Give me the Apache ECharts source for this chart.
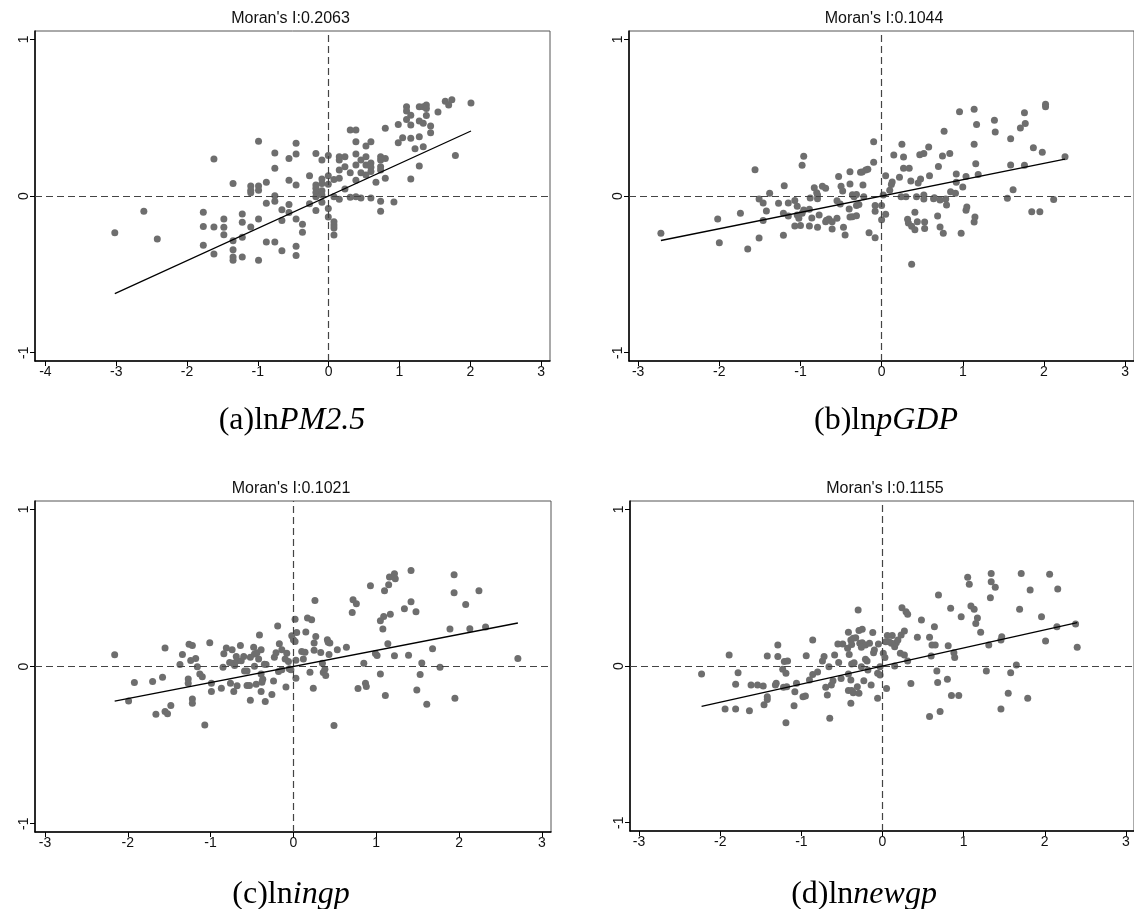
<!DOCTYPE html>
<html>
<head>
<meta charset="utf-8">
<script src="https://cdn.jsdelivr.net/npm/echarts@6/dist/echarts.min.js"></script>
<style>
html, body { margin: 0; padding: 0; background: #fff; }
#chart { width: 1134px; height: 909px; }
</style>
</head>
<body>
<div id="chart"></div>
<script>
// Moran's I per panel (slope of the fitted line)
const moransI = [0.2063, 0.1044, 0.1021, 0.1155];
const capPrefix = ['(a)ln', '(b)ln', '(c)ln', '(d)ln'];
const capVar = ['PM2.5', 'pGDP', 'ingp', 'newgp'];
const xTicksA = [-4, -3, -2, -1, 0, 1, 2, 3];
const xTicks = [-3, -2, -1, 0, 1, 2, 3];
const yTicks = [-1, 0, 1];

// [z, Wz] points
const pm25 = [
  [-3.02,-0.234],[-2.61,-0.098],[-2.42,-0.274],[-1.62,0.236],[-1.77,-0.104],[-1.77,-0.194],[-1.62,-0.198],
  [-1.77,-0.315],[-1.62,-0.37],[-1.48,-0.147],[-1.48,-0.2],[-1.48,-0.247],[-1.35,0.079],[-1.35,-0.285],
  [-1.35,-0.343],[-1.35,-0.39],[-1.35,-0.41],[-1.22,-0.115],[-1.22,-0.168],[-1.22,-0.264],[-1.22,-0.39],
  [-1.10,-0.198],[-1.10,0.064],[-1.10,0.036],[-1.10,0.02],[-0.99,0.064],[-0.99,0.036],[-0.99,-0.147],
  [-0.99,-0.41],[-0.99,0.349],[-0.88,0.087],[-0.88,-0.047],[-0.88,-0.294],[-0.76,0.274],[-0.76,0.177],
  [-0.76,0.002],[-0.76,-0.034],[-0.76,-0.294],[-0.66,-0.087],[-0.66,-0.157],[-0.66,-0.35],[-0.56,0.24],
  [-0.56,0.1],[-0.56,-0.055],[-0.56,-0.106],[-0.46,0.336],[-0.46,0.268],[-0.46,0.07],[-0.46,-0.147],
  [-0.46,-0.32],[-0.46,-0.38],[-0.37,-0.181],[-0.37,-0.232],[-0.27,0.13],[-0.27,-0.049],[-0.18,0.272],
  [-0.18,0.07],[-0.18,0.05],[-0.18,0.023],[-0.18,-0.004],[-0.18,-0.093],[-0.095,0.23],[-0.095,0.109],
  [-0.095,0.079],[-0.095,0.034],[-0.095,0.006],[-0.095,-0.04],[-0.005,0.258],[-0.005,0.13],[-0.005,0.075],
  [-0.005,-0.08],[-0.005,-0.134],[0.075,0.106],[0.075,-0.004],[0.075,-0.164],[0.075,-0.185],[0.075,-0.204],
  [0.075,-0.249],[0.15,0.25],[0.15,0.23],[0.15,0.166],[0.15,0.113],[0.15,-0.02],[0.23,0.25],[0.23,0.187],
  [0.23,0.045],[0.305,0.421],[0.305,0.149],[0.305,-0.008],[0.385,0.421],[0.385,0.347],[0.385,0.268],
  [0.385,0.198],[0.385,0.1],[0.385,-0.004],[0.456,0.23],[0.456,0.149],[0.456,-0.013],[0.527,0.319],
  [0.527,0.25],[0.527,0.198],[0.527,0.134],[0.597,0.347],[0.597,0.21],[0.597,0.183],[0.597,0.157],
  [0.597,-0.013],[0.668,0.087],[0.734,0.25],[0.734,0.23],[0.734,0.187],[0.734,0.166],[0.734,-0.034],
  [0.734,-0.098],[0.8,0.24],[0.8,0.432],[0.8,0.113],[0.922,-0.038],[0.983,0.457],[0.983,0.34],[1.045,0.372],
  [1.10,0.57],[1.10,0.542],[1.10,0.489],[1.16,0.515],[1.16,0.453],[1.16,0.368],[1.16,0.109],[1.22,0.302],
  [1.28,0.57],[1.28,0.479],[1.28,0.378],[1.28,0.191],[1.336,0.57],[1.336,0.464],[1.336,0.315],[1.38,0.58],
  [1.38,0.559],[1.38,0.513],[1.44,0.447],[1.44,0.404],[1.544,0.536],[1.647,0.604],[1.695,0.58],[1.74,0.615],
  [1.79,0.258],[2.01,0.593]
];
const pgdp = [
  [-2.72,-0.238],[-2.02,-0.147],[-2.0,-0.298],[-1.74,-0.11],[-1.65,-0.338],[-1.56,0.168],[-1.51,-0.019],
  [-1.51,-0.268],[-1.46,-0.044],[-1.46,-0.157],[-1.42,-0.095],[-1.38,0.017],[-1.27,-0.047],[-1.21,-0.11],
  [-1.20,0.066],[-1.21,-0.251],[-1.15,-0.044],[-1.15,-0.127],[-1.07,-0.028],[-1.07,-0.191],[-1.04,-0.066],
  [-1.04,-0.121],[-1.02,-0.142],[-1.0,-0.189],[-0.98,0.196],[-0.96,0.253],[-0.98,-0.11],[-0.96,-0.089],
  [-0.89,-0.191],[-0.89,-0.085],[-0.88,-0.013],[-0.86,-0.14],[-0.83,0.053],[-0.80,0.021],[-0.79,-0.017],
  [-0.79,0.006],[-0.79,-0.2],[-0.77,-0.121],[-0.73,0.062],[-0.69,0.049],[-0.69,-0.164],[-0.68,-0.155],
  [-0.65,-0.147],[-0.61,-0.164],[-0.61,-0.211],[-0.55,-0.142],[-0.55,-0.03],[-0.53,0.125],[-0.51,-0.051],
  [-0.50,0.062],[-0.48,0.032],[-0.47,-0.2],[-0.45,-0.249],[-0.39,0.077],[-0.39,0.155],[-0.40,-0.083],
  [-0.39,-0.134],[-0.36,0.008],[-0.36,-0.132],[-0.34,-0.004],[-0.31,0.01],[-0.31,-0.06],[-0.31,-0.126],
  [-0.28,-0.055],[-0.26,0.151],[-0.24,0.153],[-0.23,0.07],[-0.22,-0.004],[-0.195,0.166],[-0.17,0.17],
  [-0.155,-0.234],[-0.098,0.347],[-0.098,0.215],[-0.08,-0.06],[-0.08,-0.098],[-0.08,-0.266],[0.0,-0.06],
  [0.0,-0.151],[0.02,0.006],[0.05,0.13],[0.05,-0.117],[0.10,0.036],[0.12,0.074],[0.13,0.09],[0.15,0.262],
  [0.22,0.119],[0.24,-0.004],[0.25,0.33],[0.27,0.249],[0.27,0.177],[0.30,-0.004],[0.32,-0.149],[0.33,-0.172],
  [0.34,0.177],[0.36,0.096],[0.37,-0.193],[0.37,-0.436],[0.41,-0.104],[0.41,-0.215],[0.43,-0.004],
  [0.44,-0.164],[0.45,0.083],[0.47,0.264],[0.48,0.108],[0.52,0.272],[0.52,0.006],[0.52,-0.019],[0.53,-0.166],
  [0.53,-0.208],[0.58,0.313],[0.59,0.13],[0.64,-0.017],[0.65,-0.011],[0.70,0.189],[0.69,-0.127],[0.72,-0.026],
  [0.72,-0.198],[0.75,0.255],[0.76,-0.238],[0.77,0.413],[0.79,-0.019],[0.80,-0.057],[0.84,0.272],[0.85,0.027],
  [0.91,0.017],[0.92,0.14],[0.92,0.087],[0.96,0.538],[0.98,-0.238],[1.00,0.057],[1.04,0.125],[1.04,-0.091],
  [1.05,-0.07],[1.14,0.553],[1.14,0.33],[1.14,-0.166],[1.15,-0.134],[1.16,0.206],[1.17,0.457],[1.19,0.138],
  [1.39,0.483],[1.40,0.409],[1.55,-0.015],[1.59,0.198],[1.59,0.366],[1.62,0.04],[1.71,0.434],[1.76,0.532],
  [1.77,0.462],[1.76,0.196],[1.85,-0.1],[1.87,0.308],[1.95,-0.1],[1.98,0.279],[2.02,0.57],[2.02,0.585],
  [2.12,-0.023],[2.26,0.251]
];
const ingp = [
  [-2.158,0.074],[-1.99,-0.219],[-1.92,-0.102],[-1.70,-0.096],[-1.66,-0.304],[-1.58,-0.068],[-1.55,0.117],
  [-1.55,-0.287],[-1.52,-0.3],[-1.48,-0.248],[-1.37,0.013],[-1.34,0.076],[-1.27,-0.079],[-1.27,-0.106],
  [-1.26,0.142],[-1.22,0.134],[-1.24,0.038],[-1.22,-0.206],[-1.22,-0.234],[-1.18,0.051],[-1.16,-0.002],
  [-1.13,-0.047],[-1.10,-0.066],[-1.07,-0.372],[-1.01,0.151],[-0.99,-0.106],[-0.99,-0.159],[-0.87,-0.138],
  [-0.85,-0.004],[-0.84,0.081],[-0.81,0.117],[-0.76,-0.106],[-0.74,0.106],[-0.77,0.025],[-0.73,0.021],
  [-0.71,0.006],[-0.72,-0.159],[-0.69,0.064],[-0.68,0.036],[-0.68,-0.123],[-0.64,0.134],[-0.63,0.036],
  [-0.60,0.064],[-0.59,-0.028],[-0.56,-0.028],[-0.56,-0.121],[-0.53,-0.121],[-0.52,-0.214],[-0.52,0.059],
  [-0.48,0.123],[-0.47,0.079],[-0.44,0.087],[-0.47,0.002],[-0.42,0.047],[-0.45,-0.113],[-0.41,0.2],
  [-0.39,0.106],[-0.39,-0.047],[-0.37,-0.081],[-0.38,-0.1],[-0.39,-0.159],[-0.35,0.015],[-0.33,0.013],
  [-0.34,-0.223],[-0.26,-0.178],[-0.24,-0.093],[-0.23,0.059],[-0.21,0.087],[-0.19,0.257],[-0.18,-0.032],
  [-0.17,0.144],[-0.14,0.106],[-0.14,-0.021],[-0.10,0.047],[-0.08,0.085],[-0.06,0.032],[-0.09,-0.13],
  [-0.05,-0.015],[-0.03,-0.021],[-0.02,0.195],[0.0,0.17],[0.02,0.301],[0.04,0.217],[0.02,0.159],[0.03,-0.074],
  [0.03,0.04],[0.10,0.096],[0.14,0.091],[0.15,0.219],[0.12,0.047],[0.17,0.308],[0.20,-0.036],[0.22,0.297],
  [0.24,-0.138],[0.25,0.149],[0.25,0.104],[0.26,0.42],[0.27,0.191],[0.33,0.089],[0.35,0.021],[0.36,-0.038],
  [0.39,-0.057],[0.38,-0.017],[0.41,0.17],[0.42,0.155],[0.44,0.149],[0.43,0.076],[0.49,-0.376],[0.53,0.106],
  [0.64,0.123],[0.71,0.344],[0.72,0.425],[0.76,0.399],[0.78,-0.14],[0.85,0.021],[0.87,-0.106],[0.88,-0.127],
  [0.93,0.514],[0.99,0.083],[1.01,0.07],[1.05,-0.047],[1.05,0.291],[1.09,0.318],[1.08,0.238],[1.10,0.482],
  [1.11,-0.185],[1.14,0.144],[1.15,0.52],[1.16,0.569],[1.17,0.333],[1.22,0.59],[1.23,0.558],[1.22,0.068],
  [1.34,0.367],[1.39,0.072],[1.42,0.611],[1.42,0.412],[1.48,0.348],[1.49,-0.149],[1.53,-0.051],[1.55,0.023],
  [1.61,-0.24],[1.68,0.113],[1.77,-0.004],[1.89,0.238],[1.94,0.584],[1.94,0.469],[1.95,-0.202],[2.08,0.395],
  [2.13,0.24],[2.24,0.482],[2.32,0.251],[2.71,0.051]
];
const newgp = [
  [-2.23,-0.051],[-1.89,0.07],[-1.81,-0.117],[-1.78,-0.043],[-1.94,-0.274],[-1.81,-0.274],[-1.64,-0.285],
  [-1.62,-0.121],[-1.54,-0.121],[-1.47,-0.128],[-1.46,-0.247],[-1.42,-0.196],[-1.42,-0.213],[-1.42,0.064],
  [-1.32,-0.121],[-1.31,-0.11],[-1.29,0.134],[-1.29,0.06],[-1.23,-0.021],[-1.19,-0.047],[-1.21,0.028],
  [-1.17,0.032],[-1.22,-0.136],[-1.18,-0.132],[-1.19,-0.362],[-1.09,-0.253],[-1.08,-0.164],[-1.06,-0.11],
  [-0.98,-0.196],[-0.95,-0.191],[-0.94,0.066],[-0.90,-0.089],[-0.86,0.166],[-0.86,-0.055],[-0.80,-0.038],
  [-0.74,0.032],[-0.72,0.06],[-0.70,-0.136],[-0.68,-0.185],[-0.66,-0.004],[-0.65,-0.334],[-0.63,-0.121],
  [-0.61,-0.094],[-0.59,0.07],[-0.55,0.14],[-0.49,0.14],[-0.54,0.023],[-0.51,-0.079],[-0.43,0.113],
  [-0.42,-0.051],[-0.42,0.215],[-0.41,0.074],[-0.39,0.166],[-0.36,0.177],[-0.39,-0.089],[-0.39,-0.238],
  [-0.38,0.138],[-0.42,-0.157],[-0.38,-0.157],[-0.36,-0.17],[-0.38,0.013],[-0.35,0.021],[-0.33,0.18],
  [-0.31,-0.132],[-0.30,0.357],[-0.29,-0.174],[-0.29,0.226],[-0.25,0.234],[-0.28,0.145],[-0.25,0.149],
  [-0.21,0.134],[-0.26,0.119],[-0.26,-0.004],[-0.23,-0.094],[-0.21,0.043],[-0.19,0.032],[-0.18,-0.026],
  [-0.16,0.145],[-0.14,-0.121],[-0.12,0.213],[-0.11,0.085],[-0.10,0.102],[-0.06,-0.047],[-0.03,-0.057],
  [-0.06,-0.206],[-0.05,0.14],[-0.03,-0.004],[0.01,0.081],[0.03,0.055],[0.04,0.155],[0.05,-0.143],
  [0.06,0.194],[0.12,0.194],[0.08,0.155],[0.11,0.145],[0.15,0.123],[0.15,0.0],[0.17,0.149],[0.19,0.166],
  [0.22,0.081],[0.27,0.07],[0.24,0.372],[0.29,0.347],[0.31,0.33],[0.23,0.198],[0.27,0.223],[0.31,0.032],
  [0.35,-0.111],[0.43,0.183],[0.48,0.294],[0.58,-0.323],[0.58,0.183],[0.60,0.064],[0.61,0.134],[0.65,0.134],
  [0.64,0.251],[0.67,-0.032],[0.68,-0.106],[0.69,0.453],[0.71,-0.291],[0.80,-0.085],[0.81,0.13],[0.84,0.368],
  [0.85,-0.189],[0.94,-0.189],[0.88,0.085],[0.89,0.055],[0.97,0.315],[1.05,0.566],[1.07,0.521],[1.09,0.383],
  [1.13,0.362],[1.15,0.272],[1.17,0.306],[1.21,0.215],[1.28,-0.032],[1.31,0.134],[1.33,0.436],[1.34,0.591],
  [1.34,0.538],[1.39,0.502],[1.46,0.166],[1.47,0.187],[1.46,-0.274],[1.55,-0.174],[1.58,-0.043],[1.65,0.006],
  [1.69,0.362],[1.71,0.591],[1.79,-0.206],[1.82,0.485],[1.96,0.315],[2.01,0.16],[2.06,0.585],[2.15,0.251],
  [2.16,0.491],[2.38,0.268],[2.40,0.119]
];

const panels = [
  { data: pm25,  grid: { left: 35,  top: 31,  width: 515, height: 330 }, xMin: -4.147, xMax: 3.126, ticks: xTicksA, cap: [292, 421] },
  { data: pgdp,  grid: { left: 629, top: 31,  width: 514, height: 330 }, xMin: -3.113, xMax: 3.11,  ticks: xTicks,  cap: [886, 421] },
  { data: ingp,  grid: { left: 35,  top: 501, width: 516, height: 331 }, xMin: -3.12,  xMax: 3.11,  ticks: xTicks,  cap: [291, 895] },
  { data: newgp, grid: { left: 630, top: 501, width: 514, height: 330 }, xMin: -3.112, xMax: 3.10,  ticks: xTicks,  cap: [864, 895] }
];

const sans = "'Liberation Sans', Arial, sans-serif";
const serif = "'Liberation Serif', 'Times New Roman', serif";

const chart = echarts.init(document.getElementById('chart'));

const grids = [], xAxes = [], yAxes = [], series = [], graphics = [];
panels.forEach((p, i) => {
  grids.push(Object.assign({ show: true, borderColor: '#555', borderWidth: 1 }, p.grid));
  xAxes.push({
    gridIndex: i, type: 'value', min: p.xMin, max: p.xMax,
    axisLine: { show: true, onZero: false, lineStyle: { color: '#000', width: 1.5 } },
    axisTick: { show: true, length: 5, customValues: p.ticks, lineStyle: { color: '#000' } },
    axisLabel: { customValues: p.ticks, fontSize: 14, color: '#111', fontFamily: sans, margin: 4 },
    splitLine: { show: false }
  });
  yAxes.push({
    gridIndex: i, type: 'value', min: -1.053, max: 1.053,
    axisLine: { show: true, onZero: false, lineStyle: { color: '#000', width: 1.5 } },
    axisTick: { show: true, length: 5, customValues: yTicks, lineStyle: { color: '#000' } },
    axisLabel: { customValues: yTicks, fontSize: 14, color: '#111', fontFamily: sans, margin: 4, rotate: 90 },
    splitLine: { show: false }
  });
  series.push({
    type: 'scatter', xAxisIndex: i, yAxisIndex: i, data: p.data,
    symbolSize: 7, itemStyle: { color: '#6e6e6e', opacity: 1 },
    markLine: {
      silent: true, symbol: ['none', 'none'], label: { show: false },
      lineStyle: { color: '#444', width: 1.2, type: [7, 4] },
      data: [{ xAxis: 0 }, { yAxis: 0 }]
    }
  });
  // fitted line: slope = Moran's I through origin, spanning the data
  const xs = p.data.map(d => d[0]);
  const lo = Math.min(...xs), hi = Math.max(...xs);
  series.push({
    type: 'line', xAxisIndex: i, yAxisIndex: i, z: 5, symbol: 'none',
    data: [[lo, moransI[i] * lo], [hi, moransI[i] * hi]],
    lineStyle: { color: '#000', width: 1.3 }
  });
  const cx = p.grid.left + p.grid.width / 2 - 2;
  graphics.push({
    type: 'text', x: cx, y: p.grid.top - 12,
    style: { text: "Moran's I:" + moransI[i].toFixed(4), font: '16px ' + sans, fill: '#111',
             textAlign: 'center', textVerticalAlign: 'middle', align: 'center', verticalAlign: 'middle' }
  });
  graphics.push({
    type: 'text', x: p.cap[0], y: p.cap[1],
    style: {
      text: '{n|' + capPrefix[i] + '}{v|' + capVar[i] + '}',
      textAlign: 'center', textVerticalAlign: 'middle', align: 'center', verticalAlign: 'middle',
      fill: '#000',
      rich: {
        n: { fontSize: 32, fontFamily: serif, color: '#000' },
        v: { fontSize: 32, fontFamily: serif, fontStyle: 'italic', color: '#000' }
      }
    }
  });
});

chart.setOption({
  animation: false,
  backgroundColor: '#fff',
  grid: grids,
  xAxis: xAxes,
  yAxis: yAxes,
  series: series,
  graphic: graphics
});
window.addEventListener('resize', () => chart.resize());
</script>
</body>
</html>
